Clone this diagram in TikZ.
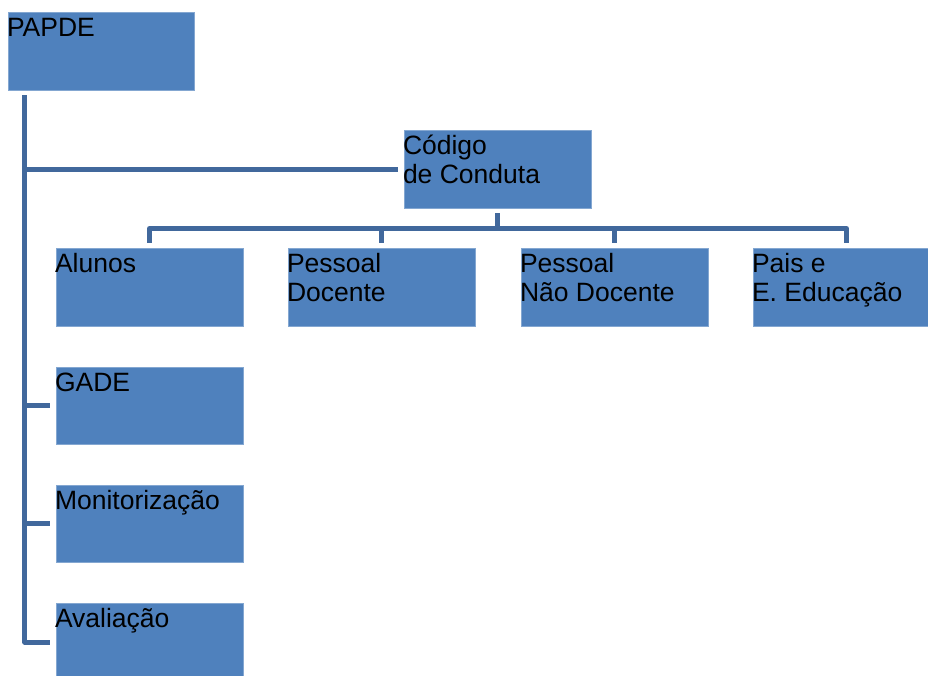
\documentclass[tikz,border=0pt]{standalone}
\usepackage{fontspec}
\setmainfont{Liberation Sans}
\definecolor{boxblue}{HTML}{4F81BD}
\definecolor{lineblue}{HTML}{41689C}
\begin{document}
\begin{tikzpicture}[x=1pt,y=-1pt,
  box/.style={rectangle, fill=boxblue, draw=boxblue!70!white, line width=0.6pt,
    minimum width=187pt, minimum height=78pt, inner sep=0pt, outer sep=0pt, anchor=north west},
  lbl/.style={anchor=base west, inner sep=0pt, outer sep=0pt, text=black,
    font=\fontsize{26.5}{29.5}\selectfont},
  conn/.style={draw=lineblue, line width=5pt, line join=round, line cap=butt}]
\useasboundingbox (0,0) rectangle (928,675);
% boxes
\node[box, minimum width=186pt] (papde) at (8,12) {};
\node[box] (codigo) at (404,130) {};
\node[box] (alunos) at (56,248) {};
\node[box] (docente) at (288,248) {};
\node[box] (naodocente) at (521,248) {};
\node[box] (pais) at (753,248) {};
\node[box, minimum height=77pt] (gade) at (56,367) {};
\node[box, minimum height=77pt] (monit) at (56,485) {};
\node[box] (aval) at (56,603) {};
% labels
\newcommand{\twolines}[2]{\begin{tabular}[t]{@{}l@{}}#1\\#2\end{tabular}}
\renewcommand{\arraystretch}{1}
\node[lbl] (papde-t) at ([xshift=-1pt,yshift=-24pt]papde.north west) {PAPDE};
\node[lbl] (codigo-t) at ([xshift=-1pt,yshift=-24pt]codigo.north west) {\twolines{Código}{de Conduta}};
\node[lbl] (alunos-t) at ([xshift=-1pt,yshift=-24pt]alunos.north west) {Alunos};
\node[lbl] (docente-t) at ([xshift=-1pt,yshift=-24pt]docente.north west) {\twolines{Pessoal}{Docente}};
\node[lbl] (naodocente-t) at ([xshift=-1pt,yshift=-24pt]naodocente.north west) {\twolines{Pessoal}{Não Docente}};
\node[lbl] (pais-t) at ([xshift=-1pt,yshift=-24pt]pais.north west) {\twolines{Pais e}{E. Educação}};
\node[lbl] (gade-t) at ([xshift=-1pt,yshift=-24pt]gade.north west) {GADE};
\node[lbl] (monit-t) at ([xshift=-1pt,yshift=-24pt]monit.north west) {Monitorização};
\node[lbl] (aval-t) at ([xshift=-1pt,yshift=-24pt]aval.north west) {Avaliação};
% trunk
\coordinate (trunktop) at ([xshift=16.7pt,yshift=-5pt]papde.south west);
\draw[conn] (trunktop) |- ([xshift=-6pt]aval.west);
\draw[conn] (trunktop |- codigo.west) -- ([xshift=-6pt]codigo.west);
\draw[conn] (trunktop |- gade.west) -- ([xshift=-6pt]gade.west);
\draw[conn] (trunktop |- monit.west) -- ([xshift=-6pt]monit.west);
% codigo branches
\coordinate (bar) at ([yshift=-20.5pt]codigo.south);
\draw[conn] ([yshift=-5pt]codigo.south) -- (bar);
\draw[conn] ([yshift=5.5pt]alunos.north) |- (bar -| pais.north) -- ([yshift=5.5pt]pais.north);
\draw[conn] ([yshift=5.5pt]docente.north) -- (bar -| docente.north);
\draw[conn] ([yshift=5.5pt]naodocente.north) -- (bar -| naodocente.north);
\end{tikzpicture}
\end{document}
